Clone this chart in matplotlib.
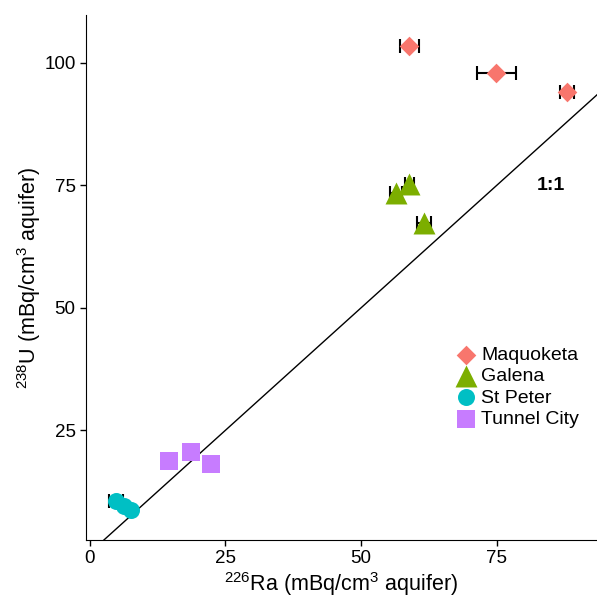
import numpy as np
import matplotlib.pyplot as plt

plt.rcParams['font.family'] = ['Liberation Sans', 'DejaVu Sans']
plt.rcParams['mathtext.default'] = 'regular'

# Ra-226 vs U-238 per formation
maq_ra = [58.9, 74.9, 88.0]
maq_u = [103.5, 98.0, 94.0]
maq_err = [1.7, 3.6, 1.3]

gal_ra = [56.5, 58.9, 61.6]
gal_u = [73.5, 75.3, 67.4]
gal_err = [1.1, 0.8, 1.3]

stp_ra = [4.9, 6.3, 7.6]
stp_u = [10.6, 9.6, 8.8]
stp_err = [1.3, 0.0, 0.0]

tc_ra = [14.6, 18.7, 22.4]
tc_u = [18.7, 20.5, 18.2]

groups = ["Maquoketa", "Galena", "St Peter", "Tunnel City"]
colors = ["#F8766D", "#7CAE00", "#00BFC4", "#C77CFF"]

fig = plt.figure(figsize=(5.97, 5.99), dpi=100)
ax = fig.add_axes([86 / 597, 59 / 599, 511 / 597, 525 / 599])

ax.plot([0, 100], [0, 100], color="black", lw=1, zorder=1)

for ra, u, err in [(maq_ra, maq_u, maq_err), (gal_ra, gal_u, gal_err), (stp_ra, stp_u, stp_err)]:
    ax.errorbar(ra, u, xerr=err, fmt="none", ecolor="black", elinewidth=1.5,
                capsize=5, capthick=1.5, zorder=2)

ax.scatter(maq_ra, maq_u, marker="D", s=100, color=colors[0], zorder=3, label=groups[0], linewidths=0)
ax.scatter(gal_ra, gal_u, marker="^", s=250, color=colors[1], zorder=3, label=groups[1], linewidths=0)
ax.scatter(stp_ra, stp_u, marker="o", s=150, color=colors[2], zorder=3, label=groups[2], linewidths=0)
ax.scatter(tc_ra, tc_u, marker="s", s=160, color=colors[3], zorder=3, label=groups[3], linewidths=0)

ax.text(85, 75, "1:1", fontsize=14, fontweight="bold", ha="center", va="center")

ax.set_xlim(-0.7, 93.5)
ax.set_ylim(2.6, 109.8)
ax.set_xticks([0, 25, 50, 75])
ax.set_yticks([25, 50, 75, 100])
ax.tick_params(labelsize=13.5, length=4, width=1, direction="out")
for side in ["top", "right"]:
    ax.spines[side].set_visible(False)

ax.set_xlabel(r"$^{226}$Ra (mBq/cm$^{3}$ aquifer)", fontsize=15.5, labelpad=2)
ax.set_ylabel(r"$^{238}$U (mBq/cm$^{3}$ aquifer)", fontsize=15.5, labelpad=1)

ax.legend(loc="upper left", bbox_to_anchor=(0.705, 0.383), frameon=False, fontsize=14,
          handletextpad=0.2, labelspacing=0.18, borderaxespad=0, handlelength=1.2)

plt.savefig("out.png", dpi=100)
